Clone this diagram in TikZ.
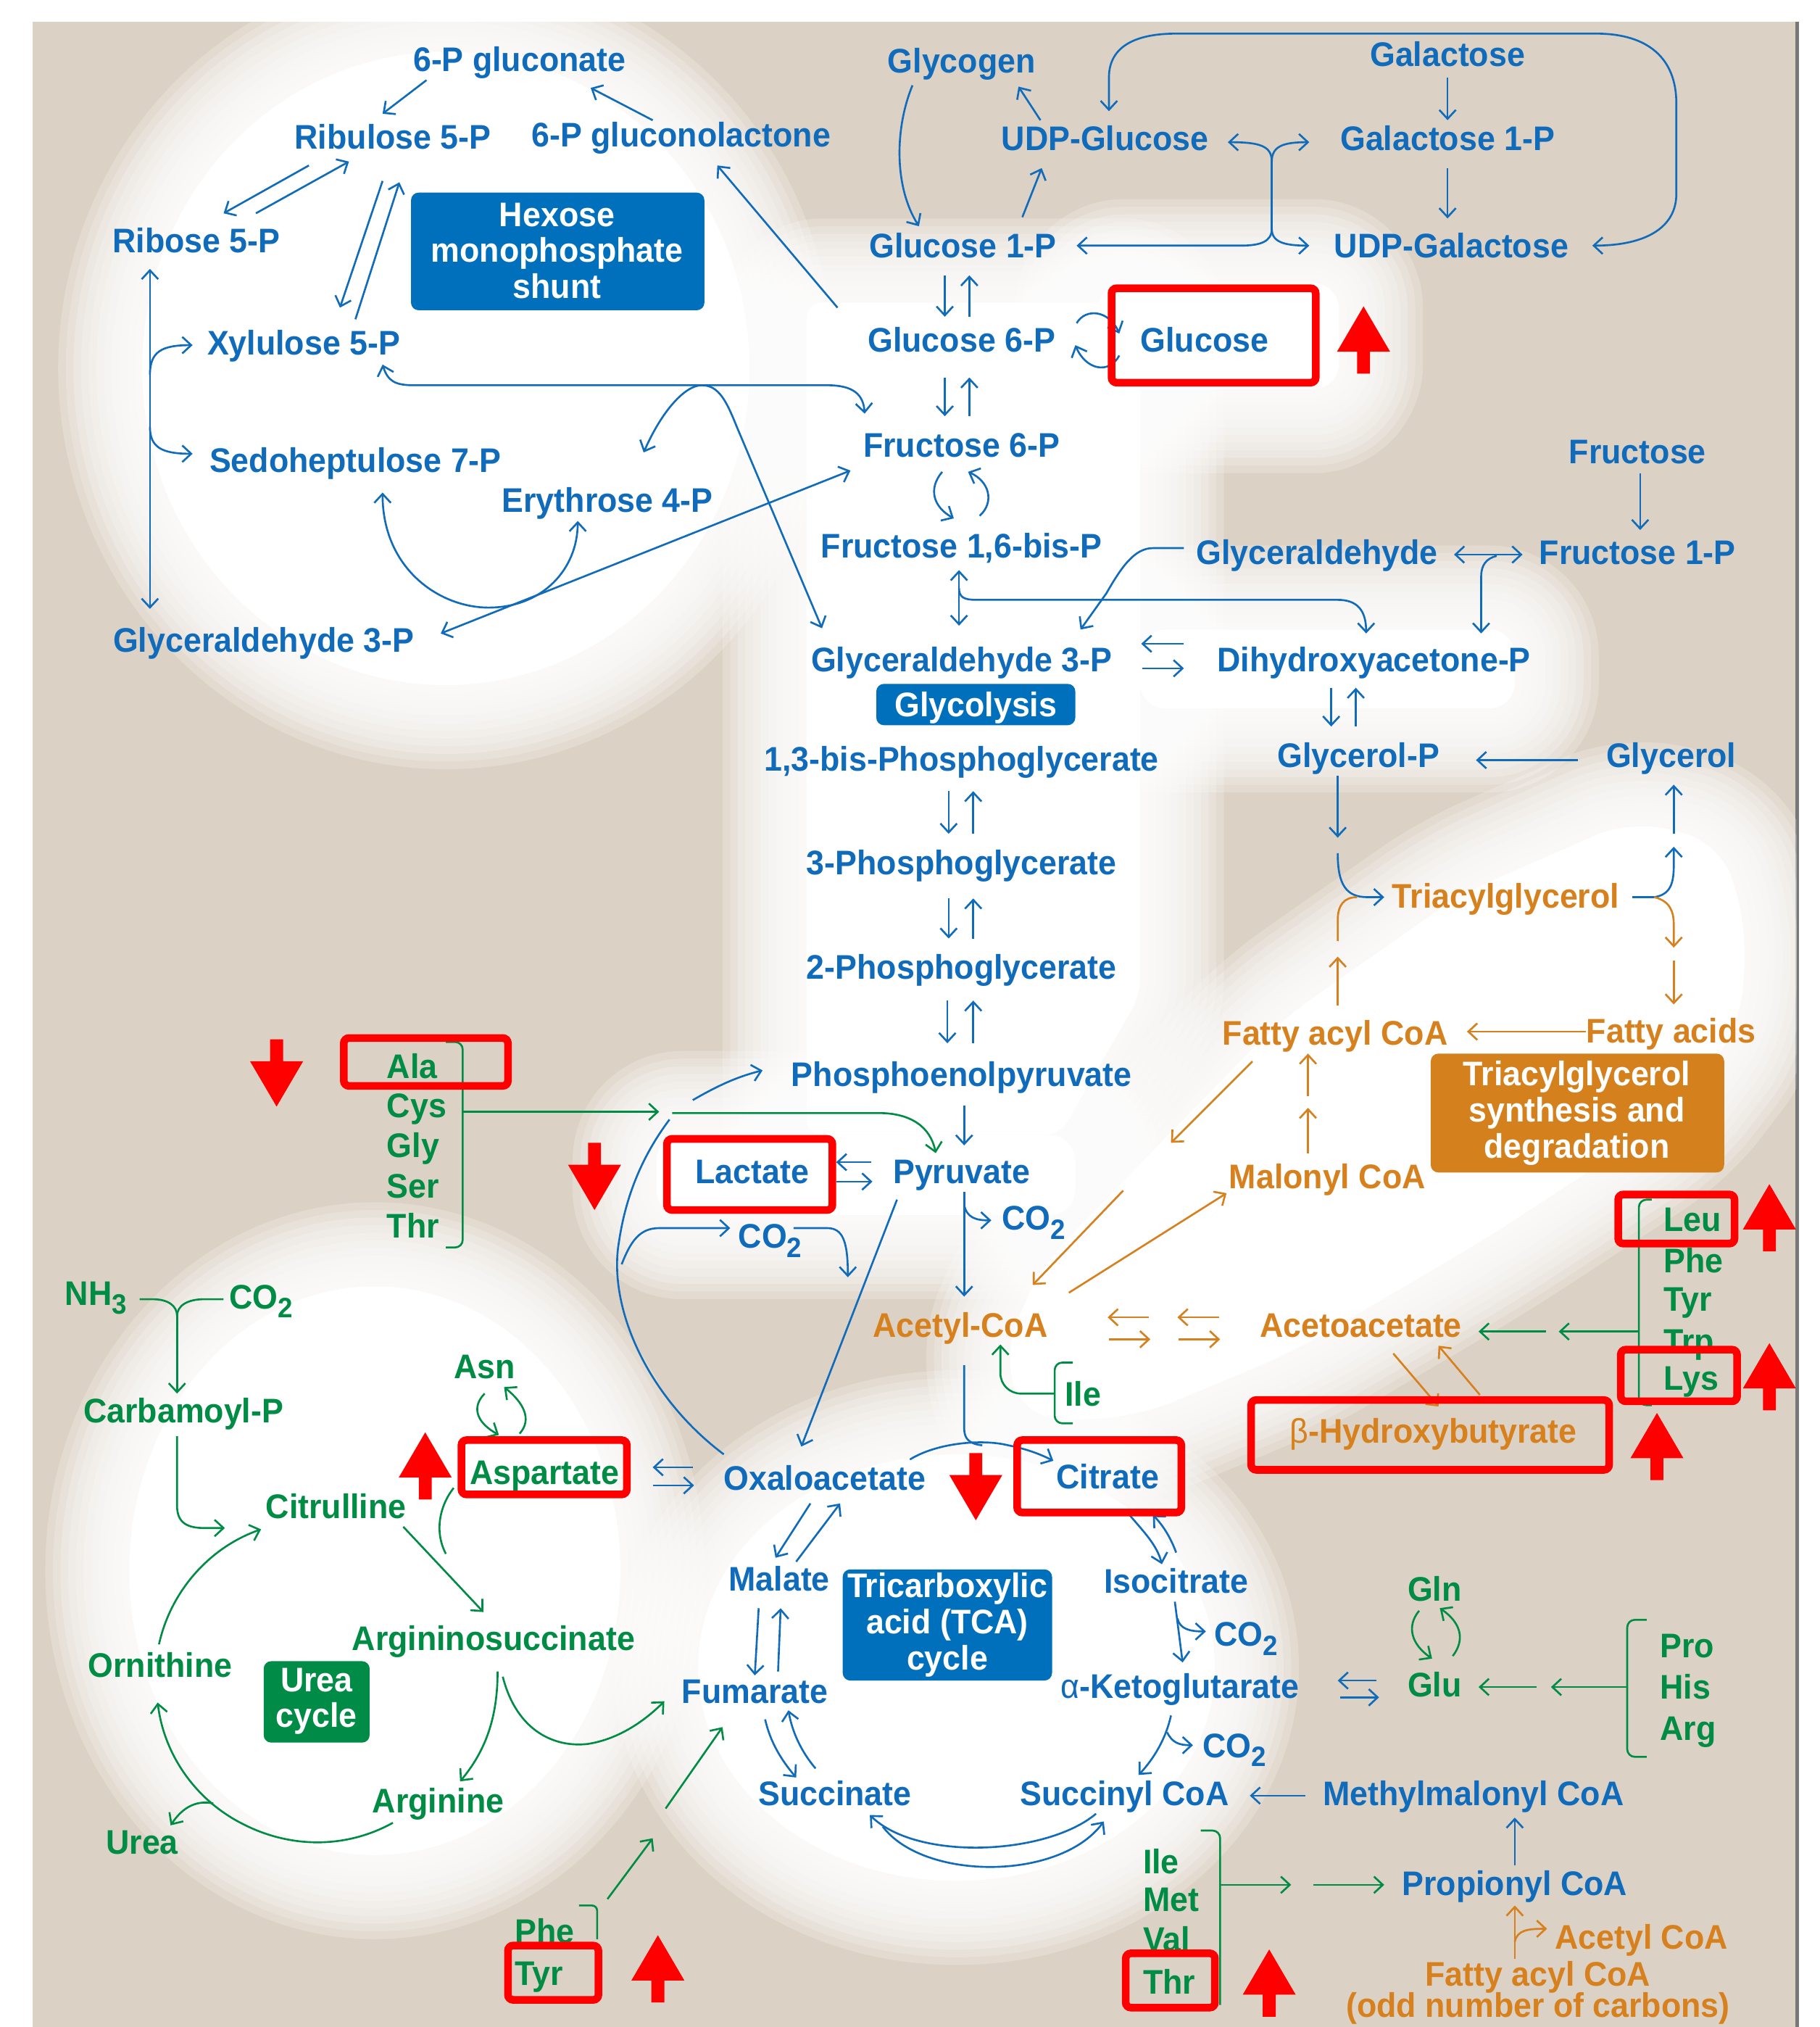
\documentclass[tikz,border=0pt]{standalone}
\usepackage{fontspec}
\setmainfont{Liberation Sans}[FakeStretch=0.95]
\usetikzlibrary{arrows.meta}
\definecolor{cbeige}{RGB}{220,209,197}
\definecolor{cblue}{RGB}{16,108,186}
\definecolor{cgreen}{RGB}{0,140,68}
\definecolor{corange}{RGB}{214,128,30}
\definecolor{cred}{RGB}{255,0,0}
\definecolor{cboxb}{RGB}{0,112,188}
\definecolor{cboxo}{RGB}{212,128,28}
\definecolor{cboxg}{RGB}{0,140,70}
\definecolor{cedge}{RGB}{120,120,120}
\newcommand\lbl{\fontsize{13.4pt}{14.2pt}\selectfont\bfseries}
\newcommand\subn[1]{\raisebox{-0.5ex}{\fontsize{11pt}{11pt}\selectfont #1}}
\newcommand\glow[1]{\foreach \w in {66,60,...,6}{\draw[white,opacity=0.2,line width=\w pt,line join=round] #1;}\fill[white] #1;}
\newcommand\redup[2]{\fill[cred] (#1,#2) -- ++(20.5,35) -- ++(-15.5,0) -- ++(0,17) -- ++(-10,0) -- ++(0,-17) -- ++(-15.5,0) -- cycle;}
\newcommand\reddown[2]{\fill[cred] (#1,#2) -- ++(20.5,-35) -- ++(-15.5,0) -- ++(0,-17) -- ++(-10,0) -- ++(0,17) -- ++(-15.5,0) -- cycle;}
\tikzset{
  >={Straight Barb[length=3.5pt,width=6.5pt]},
  tx/.style={font=\lbl, text height=9.6pt, text depth=0pt, inner sep=0pt},
  tB/.style={tx, text=cblue}, tG/.style={tx,text=cgreen}, tO/.style={tx,text=corange},
  bx/.style={font=\lbl, text=white, align=center, inner sep=0pt},
  cB/.style={draw=cblue, line width=0.75pt},
  cG/.style={draw=cgreen, line width=0.75pt},
  cO/.style={draw=corange, line width=0.75pt},
  rbox/.style={draw=cred, line width=3pt, rounded corners=2pt},
}
\begin{document}
\begin{tikzpicture}[x=0.017834cm,y=-0.017834cm]
\useasboundingbox (0,0) rectangle (1408,1568);
\fill[white] (0,0) rectangle (1408,1568);
\fill[cbeige] (25,17) rectangle (1390,1568);
\draw[cedge, line width=1.2pt] (1390.5,17) -- (1390.5,1568);
% ---- glows
\begin{scope}
\clip (25,17) rectangle (1390,1568);
\glow{(345,285) ellipse [x radius=235, y radius=245]}
\glow{[rounded corners=6pt] (624,234) -- (882,234) -- (882,770) -- (820,878) -- (624,878) -- cycle}
\glow{[rounded corners=10pt] (850,219) rectangle (1036,301)}
\glow{[rounded corners=10pt] (882,487) rectangle (1172,548)}
\glow{[rounded corners=10pt] (508,878) rectangle (832,940)}
\glow{[rounded corners=15pt] (990,790) -- (1130,692) -- (1262,634) -- (1332,652) -- (1352,720) -- (1346,795) -- (1292,865) -- (1150,958) -- (1000,1046) -- (880,1096) -- (795,1100) -- (775,1050) -- (805,980) -- (900,882) -- cycle}
\glow{(740,1290) ellipse [x radius=200, y radius=165]}
\glow{(290,1215) ellipse [x radius=190, y radius=220]}
\end{scope}
% ---- boxes
\fill[cboxb, rounded corners=3pt] (318,149) rectangle (545,240);
\fill[cboxb, rounded corners=3pt] (678,529) rectangle (832,561);
\fill[cboxb, rounded corners=3pt] (652,1214) rectangle (814,1300);
\fill[cboxg, rounded corners=3pt] (204,1285) rectangle (286,1348);
\fill[cboxo, rounded corners=3pt] (1107,815) rectangle (1334,907);
\node[bx] (hmp) at (431,194) {Hexose\\monophosphate\\shunt};
\node[tx,text=white] (glybox) at (755,545) {Glycolysis};
\node[bx] (tca) at (733,1257) {Tricarboxylic\\acid (TCA)\\cycle};
\node[bx] (ucb) at (245,1316) {Urea\\cycle};
\node[bx] (tgb) at (1220,861) {Triacylglycerol\\synthesis and\\degradation};
% ---- blue nodes
\node[tB] (gp6) at (402,46) {6-P gluconate};
\node[tB] (rul) at (304,106) {Ribulose 5-P};
\node[tB] (gl6) at (527,104) {6-P gluconolactone};
\node[tB] (rib) at (152,186) {Ribose 5-P};
\node[tB] (xyl) at (235,265) {Xylulose 5-P};
\node[tB] (sed) at (275,356) {Sedoheptulose 7-P};
\node[tB] (ery) at (470,387) {Erythrose 4-P};
\node[tB] (gapl) at (204,495) {Glyceraldehyde 3-P};
\node[tB] (glyc) at (744,47) {Glycogen};
\node[tB] (udpg) at (855,107) {UDP-Glucose};
\node[tB] (gal) at (1120,42) {Galactose};
\node[tB] (gal1) at (1120,107) {Galactose 1-P};
\node[tB] (udpgal) at (1123,190) {UDP-Galactose};
\node[tB] (g1p) at (745,190) {Glucose 1-P};
\node[tB] (g6p) at (744,263) {Glucose 6-P};
\node[tB] (glc) at (932,263) {Glucose};
\node[tB] (f6p) at (744,344) {Fructose 6-P};
\node[tB] (f16) at (744,422) {Fructose 1,6-bis-P};
\node[tB] (gap) at (744,510) {Glyceraldehyde 3-P};
\node[tB] (bpg) at (744,587) {1,3-bis-Phosphoglycerate};
\node[tB] (pg3) at (744,667) {3-Phosphoglycerate};
\node[tB] (pg2) at (744,748) {2-Phosphoglycerate};
\node[tB] (pep) at (744,831) {Phosphoenolpyruvate};
\node[tB] (pyr) at (744,906) {Pyruvate};
\node[tB] (lac) at (582,906) {Lactate};
\node[tB,anchor=west] (co2a) at (775,942) {CO\subn{2}};
\node[tB,anchor=west] (co2b) at (571,956) {CO\subn{2}};
\node[tB] (oaa) at (638,1143) {Oxaloacetate};
\node[tB] (cit) at (857,1142) {Citrate};
\node[tB] (mal) at (603,1221) {Malate};
\node[tB] (iso) at (910,1223) {Isocitrate};
\node[tB,anchor=west] (co2c) at (939,1264) {CO\subn{2}};
\node[tB] (akg) at (913,1304) {{\mdseries α}-Ketoglutarate};
\node[tB,anchor=west] (co2d) at (930,1350) {CO\subn{2}};
\node[tB] (fum) at (584,1308) {Fumarate};
\node[tB] (suc) at (646,1387) {Succinate};
\node[tB] (sca) at (870,1387) {Succinyl CoA};
\node[tB] (mmc) at (1140,1387) {Methylmalonyl CoA};
\node[tB] (prc) at (1172,1457) {Propionyl CoA};
\node[tB] (fru) at (1267,349) {Fructose};
\node[tB] (f1p) at (1267,427) {Fructose 1-P};
\node[tB] (glyald) at (1019,427) {Glyceraldehyde};
\node[tB] (dhap) at (1063,510) {Dihydroxyacetone-P};
\node[tB] (g3p) at (1051,584) {Glycerol-P};
\node[tB] (glyl) at (1293,584) {Glycerol};
% ---- orange nodes
\node[tO] (tag) at (1165,693) {Triacylglycerol};
\node[tO] (fac) at (1033,799) {Fatty acyl CoA};
\node[tO] (fa) at (1293,797) {Fatty acids};
\node[tO] (mcoa) at (1027,910) {Malonyl CoA};
\node[tO] (acoa) at (743,1025) {Acetyl-CoA};
\node[tO] (acac) at (1053,1025) {Acetoacetate};
\node[tO] (bhb) at (1109,1107) {{\mdseries β}-Hydroxybutyrate};
\node[tO] (acoa2) at (1270,1498) {Acetyl CoA};
\node[tO] (fac2) at (1190,1527) {Fatty acyl CoA};
\node[tO] (odd) at (1190,1551) {(odd number of carbons)};
% ---- green nodes
\node[tG,anchor=west] (ala) at (299,825) {Ala};
\node[tG,anchor=west] (cys) at (299,855) {Cys};
\node[tG,anchor=west] (gly) at (299,886) {Gly};
\node[tG,anchor=west] (ser) at (299,917) {Ser};
\node[tG,anchor=west] (thra) at (299,948) {Thr};
\node[tG,anchor=west] (nh3) at (50,1000) {NH\subn{3}};
\node[tG,anchor=west] (co2u) at (177,1003) {CO\subn{2}};
\node[tG] (carp) at (142,1091) {Carbamoyl-P};
\node[tG] (asn) at (375,1057) {Asn};
\node[tG,anchor=west] (asp) at (363,1139) {Aspartate};
\node[tG] (citr) at (260,1165) {Citrulline};
\node[tG] (orn) at (124,1288) {Ornithine};
\node[tG,anchor=west] (asa) at (272,1267) {Argininosuccinate};
\node[tG] (arg) at (339,1393) {Arginine};
\node[tG] (urea) at (110,1425) {Urea};
\node[tG,anchor=west] (pheb) at (398,1494) {Phe};
\node[tG,anchor=west] (tyrb) at (398,1526) {Tyr};
\node[tG] (ilea) at (838,1078) {Ile};
\node[tG,anchor=west] (ileb) at (884,1440) {Ile};
\node[tG,anchor=west] (met) at (884,1469) {Met};
\node[tG,anchor=west] (val) at (884,1500) {Val};
\node[tG,anchor=west] (thrb) at (884,1533) {Thr};
\node[tG] (gln) at (1110,1229) {Gln};
\node[tG] (glu) at (1110,1303) {Glu};
\node[tG,anchor=west] (pro) at (1284,1273) {Pro};
\node[tG,anchor=west] (his) at (1284,1305) {His};
\node[tG,anchor=west] (argb) at (1284,1337) {Arg};
\node[tG,anchor=west] (leu) at (1287,943) {Leu};
\node[tG,anchor=west] (phea) at (1287,975) {Phe};
\node[tG,anchor=west] (tyra) at (1287,1005) {Tyr};
\node[tG,anchor=west] (trp) at (1287,1037) {Trp};
\node[tG,anchor=west] (lys) at (1287,1066) {Lys};
% ---- blue connectors: pentose phosphate
\draw[cB,->] (330,62) -- (296,88);
\draw[cB,->] (505,93) -- (457,68);
\draw[cB,->] (648,238) -- (555,128);
\draw[cB,->] (239,128) -- (173,165);
\draw[cB,->] (198,165) -- (270,125);
\draw[cB,->] (296,140) -- (263,238);
\draw[cB,->] (275,247) -- (309,141);
\draw[cB,<->] (116,208) -- (116,471);
\draw[cB,->] (116,290) .. controls (116,272) and (125,267) .. (149,267);
\draw[cB,->] (116,330) .. controls (116,346) and (125,351) .. (149,351);
\draw[cB,<->] (296,282) .. controls (300,295) and (306,298) .. (320,298) -- (640,298) .. controls (660,298) and (668,305) .. (669,320);
\draw[cB,<->] (498,350) .. controls (512,318) and (530,298) .. (543,298) .. controls (556,298) and (562,310) .. (570,330) -- (636,486);
\draw[cB,<->] (296,381) .. controls (296,440) and (340,470) .. (378,470) .. controls (420,470) and (447,440) .. (447,403);
\draw[cB,<->] (341,490) -- (658,364);
% ---- glycogen / galactose
\draw[cB,->] (706,66) .. controls (692,100) and (692,145) .. (711,175);
\draw[cB,->] (791,168) -- (806,130);
\draw[cB,->] (805,93) -- (788,67);
\draw[cB,<->] (858,86) -- (858,60) .. controls (858,35) and (880,26) .. (910,26) -- (1235,26) .. controls (1275,26) and (1297,45) .. (1297,80) -- (1297,150) .. controls (1297,175) and (1275,190) .. (1232,190);
\draw[cB,->] (1120,60) -- (1120,93);
\draw[cB,->] (1120,130) -- (1120,169);
\draw[cB] (984,123) -- (984,179);
\draw[cB,->] (984,125) .. controls (984,113) and (975,110) .. (950,110);
\draw[cB,->] (984,125) .. controls (984,113) and (993,110) .. (1013,110);
\draw[cB,->] (984,177) .. controls (984,187) and (993,190) .. (1013,190);
\draw[cB,->] (984,177) .. controls (984,187) and (975,190) .. (960,190) -- (833,190);
% ---- glycolysis
\draw[cB,->] (731,213) -- (731,245);
\draw[cB,->] (750,245) -- (750,213);
\draw[cB,->] (731,292) -- (731,322);
\draw[cB,->] (750,322) -- (750,292);
\draw[cB,->] (833,250) .. controls (840,238) and (858,240) .. (866,258);
\draw[cB,->] (866,275) .. controls (858,290) and (840,286) .. (832,267);
\draw[cB,->] (729,365) .. controls (718,378) and (722,392) .. (738,401);
\draw[cB,->] (758,399) .. controls (770,388) and (765,372) .. (749,365);
\draw[cB,<->] (742,441) -- (742,484);
\draw[cB,->] (742,455) .. controls (742,462) and (746,464) .. (755,464) -- (1035,464) .. controls (1050,464) and (1057,472) .. (1057,490);
\draw[cB,->] (916,424) -- (892,424) .. controls (878,424) and (868,438) .. (856,459) -- (836,487);
\draw[cB,<->] (1125,429) -- (1178,429);
\draw[cB,->] (1158,430) .. controls (1150,432) and (1146,437) .. (1146,446) -- (1146,490);
\draw[cB,->] (1269,366) -- (1269,410);
\draw[cB,->] (916,498) -- (883,498);
\draw[cB,->] (884,517) -- (916,517);
\draw[cB,->] (1030,532) -- (1030,562);
\draw[cB,->] (1049,562) -- (1049,532);
\draw[cB,->] (1221,588) -- (1142,588);
\draw[cB,->] (1035,600) -- (1035,648);
\draw[cB,->] (1035,660) .. controls (1035,685) and (1042,694) .. (1058,694) -- (1071,694);
\draw[cB,->] (734,612) -- (734,645);
\draw[cB,->] (753,645) -- (753,612);
\draw[cB,->] (734,695) -- (734,726);
\draw[cB,->] (753,726) -- (753,695);
\draw[cB,->] (733,774) -- (733,807);
\draw[cB,->] (753,807) -- (753,774);
\draw[cB,->] (746,855) -- (746,886);
\draw[cB,->] (674,899) -- (647,899);
\draw[cB,->] (647,914) -- (675,914);
\draw[cB,->] (746,922) -- (746,1003);
\draw[cB,->] (746,932) .. controls (748,942) and (755,944) .. (767,944);
% ---- triacylglycerol
\draw[cO,->] (1035,778) -- (1035,740);
\draw[cO] (1035,728) -- (1035,712) .. controls (1035,700) and (1040,694) .. (1050,694);
\draw[cB] (1263,694) -- (1280,694);
\draw[cB,->] (1280,694) .. controls (1292,692) and (1295,684) .. (1295,670) -- (1295,655);
\draw[cB,->] (1295,645) -- (1295,607);
\draw[cO,->] (1280,694) .. controls (1292,697) and (1295,705) .. (1295,715) -- (1295,733);
\draw[cO,->] (1295,743) -- (1295,777);
\draw[cO,->] (1227,798) -- (1135,798);
\draw[cO,->] (1012,892) -- (1012,857);
\draw[cO,->] (1012,848) -- (1012,815);
\draw[cO,->] (969,821) -- (906,884);
\draw[cO,->] (869,921) -- (799,994);
\draw[cO,->] (827,1000) -- (949,923);
\draw[cO,->] (889,1019) -- (857,1019);
\draw[cO,->] (858,1036) -- (890,1036);
\draw[cO,->] (943,1019) -- (911,1019);
\draw[cO,->] (912,1036) -- (944,1036);
\draw[cO,->] (1078,1047) -- (1113,1088);
\draw[cO,->] (1145,1079) -- (1113,1041);
% ---- amino acid inputs
\draw[cG, rounded corners=3pt] (1278,928) -- (1268,928) -- (1268,1087) -- (1278,1087);
\draw[cG,->] (1268,1030) -- (1206,1030);
\draw[cG,->] (1196,1030) -- (1144,1030);
\draw[cG, rounded corners=3pt] (830,1054) -- (816,1054) -- (816,1101) -- (830,1101);
\draw[cG,->, rounded corners=8pt] (816,1078) -- (774,1078) -- (774,1040);
\draw[cG, rounded corners=3pt] (345,806) -- (358,806) -- (358,965) -- (345,965);
\draw[cG,->] (358,860) -- (510,860);
\draw[cG,->] (520,861) -- (680,861) .. controls (705,861) and (720,872) .. (724,892);
% ---- pyruvate / oxaloacetate
\draw[cB] (560,1125) .. controls (500,1080) and (470,1010) .. (479,960) .. controls (485,920) and (500,890) .. (518,866);
\draw[cB,->] (536,851) .. controls (555,840) and (570,833) .. (590,828);
\draw[cB,->] (481,978) .. controls (488,960) and (495,950) .. (510,950) -- (565,950);
\draw[cB,->] (614,950) -- (640,950) .. controls (652,950) and (656,960) .. (656,988);
\draw[cB,->] (694,928) -- (620,1119);
\draw[cB] (746,1056) -- (746,1105) .. controls (746,1113) and (750,1117) .. (760,1118);
\draw[cB,->] (704,1129) .. controls (725,1116) and (760,1113) .. (780,1118) .. controls (795,1121) and (805,1125) .. (815,1130);
% ---- TCA cycle
\draw[cB,->] (874,1172) .. controls (885,1185) and (895,1195) .. (899,1210);
\draw[cB,->] (910,1201) .. controls (906,1190) and (900,1180) .. (892,1172);
\draw[cB,->] (909,1239) -- (915,1286);
\draw[cB,->] (911,1252) .. controls (913,1260) and (920,1262) .. (933,1262);
\draw[cB,->] (906,1327) .. controls (902,1345) and (893,1360) .. (881,1373);
\draw[cB,->] (903,1340) .. controls (907,1348) and (912,1350) .. (923,1350);
\draw[cB,->] (848,1403) .. controls (810,1435) and (710,1440) .. (673,1404);
\draw[cB,->] (683,1413) .. controls (715,1455) and (820,1455) .. (854,1409);
\draw[cB,->] (592,1330) .. controls (596,1348) and (605,1362) .. (616,1375);
\draw[cB,->] (631,1368) .. controls (620,1355) and (613,1340) .. (610,1323);
\draw[cB,->] (587,1244) -- (584,1296);
\draw[cB,->] (602,1293) -- (604,1244);
\draw[cB,->] (627,1163) -- (600,1205);
\draw[cB,->] (616,1208) -- (650,1163);
\draw[cB,->] (536,1135) -- (505,1135);
\draw[cB,->] (505,1149) -- (537,1149);
\draw[cB,->] (1065,1300) -- (1035,1300);
\draw[cB,->] (1037,1313) -- (1067,1313);
\draw[cB,->] (1172,1443) -- (1172,1406);
\draw[cB,->] (1010,1389) -- (967,1389);
\draw[cO,->] (1172,1515) -- (1172,1474);
\draw[cO,->] (1172,1502) .. controls (1174,1493) and (1182,1492) .. (1197,1492);
\draw[cG, rounded corners=3pt] (929,1416) -- (944,1416) -- (944,1551);
\draw[cG,->] (944,1458) -- (999,1458);
\draw[cG,->] (1016,1458) -- (1071,1458);
\draw[cG, rounded corners=3pt] (1274,1253) -- (1259,1253) -- (1259,1359) -- (1274,1359);
\draw[cG,->] (1259,1305) -- (1200,1305);
\draw[cG,->] (1189,1305) -- (1144,1305);
\draw[cG,->] (1098,1246) .. controls (1088,1258) and (1092,1272) .. (1108,1283);
\draw[cG,->] (1124,1281) .. controls (1134,1268) and (1130,1255) .. (1114,1244);
% ---- urea cycle
\draw[cG,->] (375,1078) .. controls (365,1088) and (368,1100) .. (386,1110);
\draw[cG,->] (402,1109) .. controls (412,1098) and (405,1085) .. (390,1073);
\draw[cG,->] (312,1181) -- (374,1247);
\draw[cG] (351,1151) .. controls (340,1165) and (336,1185) .. (345,1202);
\draw[cG,->] (385,1293) .. controls (385,1330) and (375,1355) .. (356,1378);
\draw[cG,->] (389,1297) .. controls (400,1340) and (430,1352) .. (455,1349) .. controls (480,1345) and (500,1330) .. (514,1316);
\draw[cG,->] (304,1410) .. controls (268,1430) and (225,1430) .. (188,1411) .. controls (152,1393) and (127,1358) .. (122,1317);
\draw[cG,->] (165,1395) .. controls (150,1392) and (140,1400) .. (132,1412);
\draw[cG,->] (123,1272) .. controls (132,1231) and (162,1197) .. (202,1183);
\draw[cG,->] (137,1111) -- (137,1165) .. controls (137,1178) and (145,1182) .. (158,1182) -- (174,1182);
\draw[cG] (108,1005) -- (118,1005) .. controls (130,1005) and (137,1010) .. (137,1018);
\draw[cG] (173,1005) -- (158,1005) .. controls (145,1005) and (137,1010) .. (137,1018);
\draw[cG,->] (137,1016) -- (137,1078);
\draw[cG, rounded corners=2pt] (448,1474) -- (462,1474) -- (462,1500);
\draw[cG,->] (470,1469) -- (505,1422);
\draw[cG,->] (515,1399) -- (559,1336);
% ---- red highlights
\draw[rbox] (860,223) rectangle (1018,296);
\draw[rbox] (266,803) rectangle (393,840);
\draw[rbox] (516,881) rectangle (644,936);
\draw[rbox] (357,1114) rectangle (485,1156);
\draw[rbox] (787,1114) rectangle (914,1170);
\draw[rbox] (1252,924) rectangle (1342,962);
\draw[rbox] (1254,1044) rectangle (1344,1084);
\draw[rbox] (968,1083) rectangle (1245,1137);
\draw[rbox] (393,1505) rectangle (463,1547);
\draw[rbox] (871,1511) rectangle (940,1553);
\redup{1055}{237}
\reddown{214}{856}
\reddown{460}{936}
\redup{329}{1108}
\reddown{755}{1176}
\redup{1282}{1093}
\redup{1369}{916}
\redup{1369}{1039}
\redup{509}{1497}
\redup{982}{1508}
\end{tikzpicture}
\end{document}
